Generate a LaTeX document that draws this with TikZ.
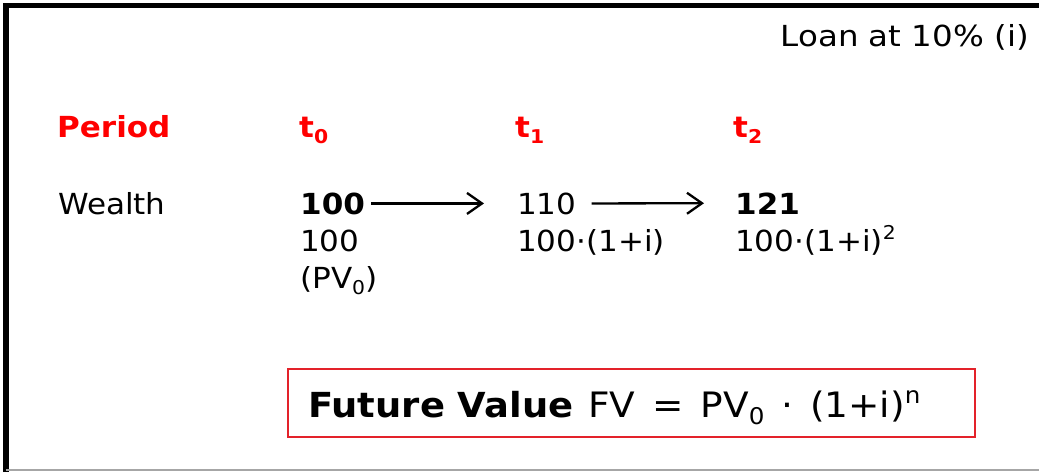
\documentclass[tikz,border=0pt]{standalone}
\usepackage{fontspec}
\setmainfont{DejaVu Sans}[FakeStretch=1.07]
\newfontfamily\loanfont{DejaVu Sans}[FakeStretch=1.12]
\usetikzlibrary{arrows.meta}
\newcommand\lowr[1]{\raisebox{-0.22em}{\fontsize{19}{19}\selectfont #1}}
\newcommand\highr[1]{\raisebox{0.38em}{\fontsize{19}{19}\selectfont #1}}
\definecolor{boxred}{HTML}{E3222A}
\tikzset{
  txt/.style={anchor=base west, inner sep=0pt, font=\fontsize{29}{37}\selectfont},
  boldtxt/.style={txt, font=\fontsize{29}{37}\selectfont\bfseries},
  hdr/.style={boldtxt, text=red},
  arr/.style={-{Straight Barb[length=15pt,width=21pt,line width=2.3pt]}, line width=2.3pt},
}
\begin{document}
\begin{tikzpicture}[x=1pt,y=-1pt]
\useasboundingbox (0,0) rectangle (1039,472);
\fill[white] (0,0) rectangle (1039,472);
% frame
\draw[black, line width=5.5pt] (6,472) -- (6,5.5) -- (1039,5.5);
\draw[gray!70, line width=1.5pt] (6,470) -- (1039,470);
% title
\node[txt, anchor=base east, font=\fontsize{29}{37}\loanfont] (loan) at (1029,46) {Loan at 10\% (i)};
% headers
\node[hdr] (period) at (57,137) {Period};
\node[hdr] (t0) at (299,137) {t\lowr{0}};
\node[hdr] (t1) at (515,137) {t\lowr{1}};
\node[hdr] (t2) at (733,137) {t\lowr{2}};
% wealth row
\node[txt] (wealth) at (58,214) {Wealth};
\node[boldtxt] (b0) at (300,214) {100};
\node[txt] (v1) at (517,214) {110};
\node[boldtxt] (b2) at (735,214) {121};
\node[txt] (s0) at (300,251) {100};
\node[txt] (p0) at (300,288) {(PV\lowr{0})};
\node[txt] (s1) at (517,251) {100·(1+i)};
\node[txt] (s2) at (735,251) {100·(1+i)\highr{2}};
\draw[arr] ([xshift=6pt]b0.east) -- ([xshift=-33pt]v1.west);
\draw[arr] ([xshift=15pt]v1.east) -- ([xshift=-31pt]b2.west);
% formula box
\node[draw=boxred, line width=2.2pt, minimum width=687pt, minimum height=68pt, anchor=north west, inner sep=0pt] (box) at (287,368) {};
\node[txt, font=\fontsize{35}{40}\selectfont] (fv) at (308,417) {{\fontsize{34.5}{40}\selectfont\bfseries Future Value}\hspace{3pt} FV\hspace{5pt} =\hspace{5pt} PV\raisebox{-0.22em}{\fontsize{23}{23}\selectfont 0}\hspace{5pt} ·\hspace{5pt} (1+i)\raisebox{0.4em}{\fontsize{23}{23}\selectfont n}};
\end{tikzpicture}
\end{document}
